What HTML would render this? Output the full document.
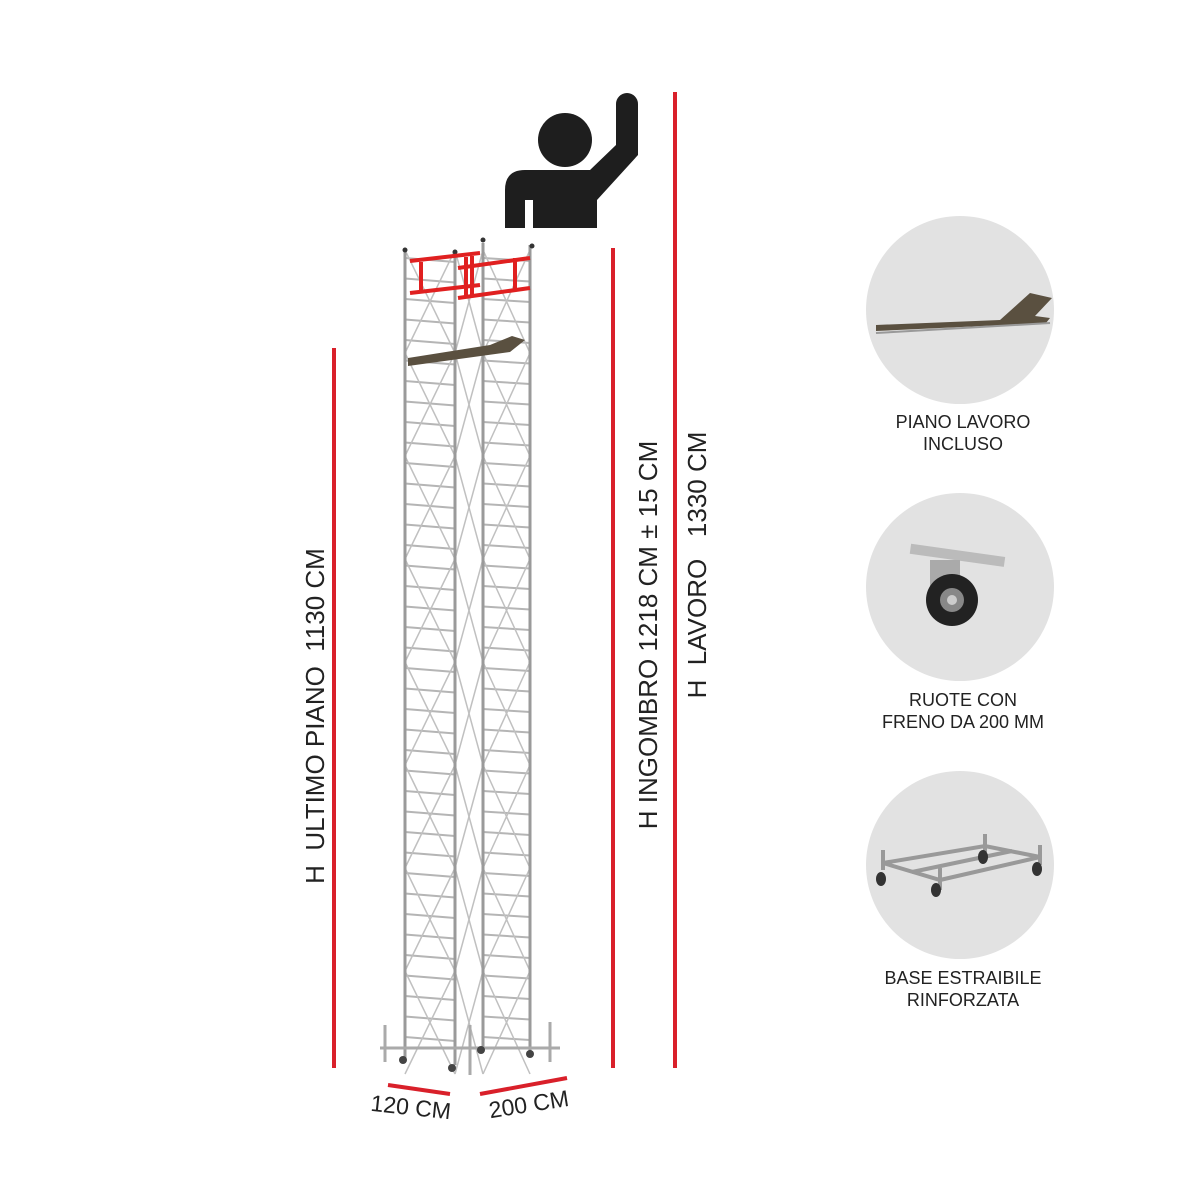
<!DOCTYPE html>
<html><head><meta charset="utf-8"><style>
html,body{margin:0;padding:0;background:#fff}
svg{display:block}
text{font-family:"Liberation Sans",sans-serif;fill:#222}
</style></head><body>
<svg id="s" width="1200" height="1200" viewBox="0 0 1200 1200" xmlns="http://www.w3.org/2000/svg">
<rect width="1200" height="1200" fill="#fff"/>
<g id="scaf"></g>
<circle cx="565" cy="140" r="27" fill="#1e1e1e"/>
<path d="M505,228 L505,190 Q505,170 525,170 L590,170 L616,145 L616,104 A11,11 0 0 1 638,104 L638,155 L597,200 L597,228 L533,228 L533,200 L525,200 L525,228 Z" fill="#1e1e1e"/>
<g stroke="#d9202a" stroke-width="4">
<line x1="334" y1="348" x2="334" y2="1068"/>
<line x1="613" y1="248" x2="613" y2="1068"/>
<line x1="675" y1="92" x2="675" y2="1068"/>
<line x1="388" y1="1085" x2="450" y2="1094"/>
<line x1="480" y1="1094" x2="567" y2="1078"/>
</g>
<text transform="translate(324,716) rotate(-90)" text-anchor="middle" font-size="26" xml:space="preserve">H  ULTIMO PIANO  1130 CM</text>
<text transform="translate(657,635) rotate(-90)" text-anchor="middle" font-size="26">H INGOMBRO 1218 CM ± 15 CM</text>
<text transform="translate(706,565) rotate(-90)" text-anchor="middle" font-size="26" xml:space="preserve">H  LAVORO   1330 CM</text>
<text transform="translate(410,1115) rotate(6)" text-anchor="middle" font-size="23">120 CM</text>
<text transform="translate(530,1112) rotate(-9)" text-anchor="middle" font-size="23">200 CM</text>
<circle cx="960" cy="310" r="94" fill="#e2e2e2"/>
<circle cx="960" cy="587" r="94" fill="#e2e2e2"/>
<circle cx="960" cy="865" r="94" fill="#e2e2e2"/>
<polygon points="876,325 1000,320 1030,293 1052,298 1035,316 1050,318 1046,323 876,331" fill="#5a5040"/>
<line x1="876" y1="333" x2="1050" y2="323" stroke="#999" stroke-width="2"/>
<rect x="910" y="550" width="95" height="10" fill="#bbb" transform="rotate(8 955 555)"/>
<rect x="930" y="560" width="30" height="30" fill="#aaa"/>
<circle cx="952" cy="600" r="26" fill="#222"/>
<circle cx="952" cy="600" r="12" fill="#888"/>
<circle cx="952" cy="600" r="5" fill="#ccc"/>
<g stroke="#999" stroke-width="4" fill="none">
<polyline points="883,863 940,880 1040,857 985,846 883,863"/>
<line x1="912" y1="872" x2="1012" y2="851"/>
<line x1="883" y1="850" x2="883" y2="870"/><line x1="940" y1="868" x2="940" y2="890"/>
<line x1="985" y1="834" x2="985" y2="852"/><line x1="1040" y1="845" x2="1040" y2="865"/>
</g>
<g fill="#333"><ellipse cx="881" cy="879" rx="5" ry="7"/><ellipse cx="936" cy="890" rx="5" ry="7"/><ellipse cx="983" cy="857" rx="5" ry="7"/><ellipse cx="1037" cy="869" rx="5" ry="7"/></g>
<g font-size="18" text-anchor="middle">
<text x="963" y="428">PIANO LAVORO</text><text x="963" y="450">INCLUSO</text>
<text x="963" y="706">RUOTE CON</text><text x="963" y="728">FRENO DA 200 MM</text>
<text x="963" y="984">BASE ESTRAIBILE</text><text x="963" y="1006">RINFORZATA</text>
</g>
</svg>
<script>
var g=document.getElementById('scaf'),NS='http://www.w3.org/2000/svg';
function L(x1,y1,x2,y2,c,w){var l=document.createElementNS(NS,'line');l.setAttribute('x1',x1);l.setAttribute('y1',y1);l.setAttribute('x2',x2);l.setAttribute('y2',y2);l.setAttribute('stroke',c||'#b5b5b5');l.setAttribute('stroke-width',w||2);g.appendChild(l);}
for(var y=258;y<1045;y+=20.5){L(405,y,455,y+4);L(483,y,530,y+3);}
for(var y=250;y<1030;y+=103){L(405,y,455,y+103,'#c0c0c0',1.5);L(455,y,405,y+103,'#c0c0c0',1.5);L(483,y,530,y+103,'#c0c0c0',1.5);L(530,y,483,y+103,'#c0c0c0',1.5);L(455,y,483,y+103,'#c0c0c0',1.5);L(483,y,455,y+103,'#c0c0c0',1.5);}
L(405,250,405,1058,'#9a9a9a',3);L(455,252,455,1065,'#9a9a9a',3);L(483,243,483,1050,'#9a9a9a',3);L(530,245,530,1052,'#9a9a9a',3);
[[405,250],[455,252],[483,240],[532,246]].forEach(function(p){var c=document.createElementNS(NS,'circle');c.setAttribute('cx',p[0]);c.setAttribute('cy',p[1]);c.setAttribute('r',2.5);c.setAttribute('fill','#333');g.appendChild(c);});
L(410,261,480,253,'#e02020',4);L(458,268,530,258,'#e02020',4);L(410,293,480,285,'#e02020',4);L(458,298,530,288,'#e02020',4);
L(421,262,421,293,'#e02020',4);L(466,257,466,298,'#e02020',4);L(472,256,472,297,'#e02020',4);L(515,258,515,290,'#e02020',4);
var p=document.createElementNS(NS,'polygon');p.setAttribute('points','408,358 490,345 512,336 525,340 510,352 408,366');p.setAttribute('fill','#5a5040');g.appendChild(p);
L(380,1048,560,1048,'#aaa',3);L(385,1025,385,1062,'#aaa',3);L(550,1022,550,1062,'#aaa',3);L(470,1025,470,1075,'#aaa',3);
[[403,1060],[452,1068],[481,1050],[530,1054]].forEach(function(q){var c=document.createElementNS(NS,'circle');c.setAttribute('cx',q[0]);c.setAttribute('cy',q[1]);c.setAttribute('r',4);c.setAttribute('fill','#444');g.appendChild(c);});
</script>
</body></html>
